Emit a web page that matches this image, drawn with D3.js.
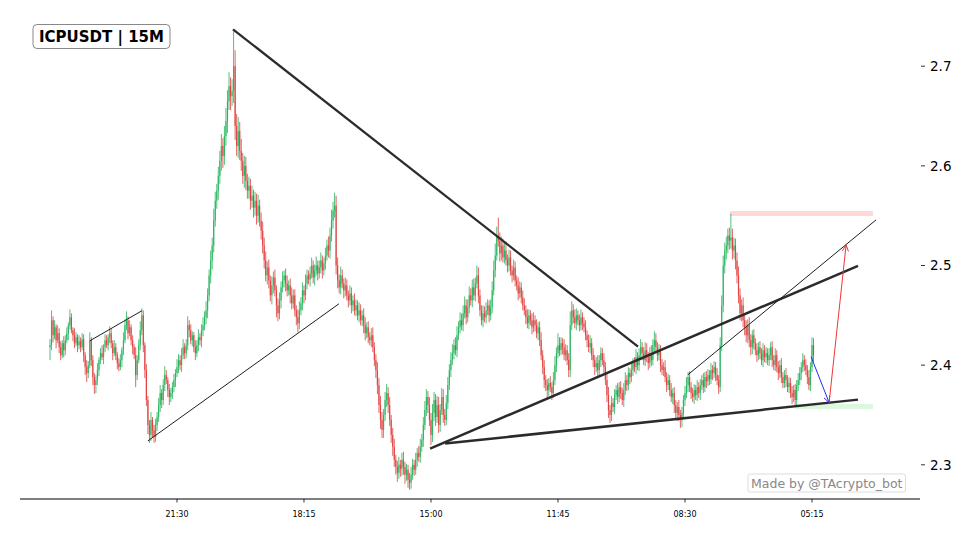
<!DOCTYPE html>
<html>
<head>
<meta charset="utf-8">
<script src="https://cdn.jsdelivr.net/npm/d3@7"></script>
<style>
  body { margin: 0; background: #fff; }
  text { font-family: "DejaVu Sans", sans-serif; }
</style>
</head>
<body>
<div id="chart"></div>
<script>
// ICPUSDT 15m candles (oldest first)
var firstOpen = 2.418
var closes = [
  2.420, 2.445, 2.430, 2.438, 2.425, 2.432, 2.418, 2.410, 2.422, 2.415,
  2.425, 2.432, 2.440, 2.448, 2.435, 2.430, 2.422, 2.428, 2.420, 2.424,
  2.418, 2.426, 2.410, 2.398, 2.392, 2.400, 2.425, 2.405, 2.388, 2.380,
  2.385, 2.395, 2.405, 2.412, 2.408, 2.418, 2.425, 2.420, 2.428, 2.432,
  2.422, 2.412, 2.418, 2.410, 2.402, 2.398, 2.405, 2.415, 2.425, 2.440,
  2.445, 2.432, 2.438, 2.425, 2.418, 2.410, 2.390, 2.405, 2.420, 2.435,
  2.450, 2.420, 2.395, 2.365, 2.340, 2.330, 2.345, 2.335, 2.328, 2.340,
  2.348, 2.360, 2.372, 2.365, 2.380, 2.390, 2.385, 2.375, 2.368, 2.372,
  2.378, 2.385, 2.392, 2.398, 2.405, 2.400, 2.410, 2.418, 2.412, 2.420,
  2.440, 2.435, 2.425, 2.430, 2.418, 2.412, 2.420, 2.428, 2.425, 2.435,
  2.440, 2.448, 2.455, 2.470, 2.490, 2.505, 2.520, 2.545, 2.565, 2.575,
  2.590, 2.605, 2.620, 2.610, 2.630, 2.645, 2.665, 2.680, 2.670, 2.675,
  2.700, 2.640, 2.620, 2.635, 2.615, 2.605, 2.590, 2.600, 2.585, 2.575,
  2.580, 2.565, 2.570, 2.558, 2.565, 2.550, 2.560, 2.545, 2.535, 2.520,
  2.505, 2.490, 2.498, 2.485, 2.470, 2.480, 2.488, 2.475, 2.460, 2.452,
  2.465, 2.478, 2.485, 2.490, 2.482, 2.475, 2.480, 2.470, 2.462, 2.470,
  2.455, 2.448, 2.442, 2.455, 2.462, 2.475, 2.470, 2.482, 2.490, 2.486,
  2.492, 2.500, 2.488, 2.495, 2.500, 2.492, 2.498, 2.505, 2.495, 2.502,
  2.510, 2.520, 2.515, 2.530, 2.545, 2.555, 2.560, 2.500, 2.485, 2.478,
  2.490, 2.482, 2.475, 2.480, 2.470, 2.465, 2.472, 2.460, 2.465, 2.455,
  2.460, 2.450, 2.455, 2.445, 2.450, 2.440, 2.432, 2.438, 2.428, 2.425,
  2.430, 2.418, 2.405, 2.395, 2.380, 2.360, 2.345, 2.335, 2.350, 2.365,
  2.372, 2.360, 2.345, 2.330, 2.318, 2.305, 2.298, 2.292, 2.300, 2.296,
  2.305, 2.298, 2.290, 2.295, 2.285, 2.282, 2.290, 2.300, 2.295, 2.305,
  2.312, 2.308, 2.318, 2.325, 2.340, 2.355, 2.368, 2.360, 2.345, 2.330,
  2.352, 2.365, 2.348, 2.360, 2.340, 2.355, 2.368, 2.350, 2.345, 2.362,
  2.380, 2.395, 2.405, 2.412, 2.420, 2.415, 2.430, 2.438, 2.445, 2.440,
  2.452, 2.460, 2.448, 2.458, 2.470, 2.465, 2.478, 2.470, 2.482, 2.490,
  2.470, 2.455, 2.445, 2.452, 2.448, 2.455, 2.460, 2.450, 2.458, 2.475,
  2.495, 2.510, 2.530, 2.525, 2.512, 2.520, 2.508, 2.515, 2.505, 2.500,
  2.508, 2.495, 2.490, 2.498, 2.485, 2.480, 2.472, 2.478, 2.468, 2.460,
  2.455, 2.448, 2.442, 2.450, 2.445, 2.438, 2.445, 2.440, 2.432, 2.438,
  2.425, 2.410, 2.398, 2.385, 2.380, 2.375, 2.382, 2.378, 2.372, 2.385,
  2.400, 2.412, 2.420, 2.415, 2.422, 2.418, 2.410, 2.415, 2.405, 2.395,
  2.440, 2.455, 2.448, 2.442, 2.450, 2.445, 2.440, 2.448, 2.442, 2.438,
  2.430, 2.425, 2.418, 2.422, 2.410, 2.405, 2.398, 2.402, 2.395, 2.405,
  2.412, 2.405, 2.398, 2.385, 2.370, 2.355, 2.350, 2.362, 2.358, 2.370,
  2.375, 2.368, 2.378, 2.372, 2.365, 2.375, 2.385, 2.380, 2.392, 2.388,
  2.395, 2.402, 2.398, 2.408, 2.400, 2.410, 2.418, 2.412, 2.405, 2.415,
  2.408, 2.402, 2.412, 2.405, 2.420, 2.425, 2.418, 2.410, 2.415, 2.400,
  2.395, 2.398, 2.388, 2.380, 2.385, 2.375, 2.368, 2.372, 2.360, 2.352,
  2.358, 2.350, 2.345, 2.352, 2.365, 2.372, 2.380, 2.388, 2.378, 2.372,
  2.368, 2.375, 2.370, 2.378, 2.372, 2.380, 2.385, 2.378, 2.388, 2.384,
  2.390, 2.386, 2.395, 2.392, 2.398, 2.390, 2.385, 2.378, 2.420, 2.460,
  2.500, 2.515, 2.520, 2.530, 2.525, 2.528, 2.515, 2.520, 2.505, 2.490,
  2.470, 2.452, 2.460, 2.445, 2.438, 2.430, 2.440, 2.425, 2.418, 2.430,
  2.422, 2.415, 2.410, 2.418, 2.412, 2.405, 2.415, 2.408, 2.412, 2.405,
  2.410, 2.418, 2.405, 2.400, 2.410, 2.398, 2.392, 2.400, 2.388, 2.382,
  2.390, 2.385, 2.378, 2.382, 2.372, 2.368, 2.375, 2.365, 2.380, 2.385,
  2.392, 2.398, 2.405, 2.400, 2.395, 2.388, 2.380, 2.398, 2.420, 2.410
]
// wick lengths above / below the body, in thousandths
var upperWick = [
  6,10,4,7,3,8,5,6,3,7, 5,6,3,8,4,3,7,5,3,6, 4,6,5,3,7,4,8,3,5,4, 5,7,3,5,8,3,6,5,3,7,
  5,3,7,4,3,5,6,3,8,6, 9,4,7,3,5,3,8,5,6,9, 7,5,3,6,4,5,8,3,5,6, 5,7,8,4,6,9,5,3,6,5,
  5,6,4,8,6,5,7,8,4,6, 9,5,6,4,3,7,5,8,4,6, 8,6,9,7,6,10,8,12,9,7, 9,10,12,8,10,13,11,14,9,12,
  35,16,12,14,9,12,8,10,9,7, 9,7,10,6,9,7,11,6,8,9, 8,9,6,8,5,9,6,8,5,7, 8,6,9,5,7,8,5,7,8,6,
  6,5,8,9,6,8,5,9,6,5, 7,8,5,6,9,5,7,8,5,6, 8,6,9,8,11,9,13,10,8,6, 9,6,5,8,6,5,8,6,5,7,
  6,5,8,6,5,7,8,5,6,5, 7,8,5,6,8,7,9,8,6,8, 9,6,8,5,7,8,5,6,8,5, 7,8,5,6,5,7,8,6,5,7,
  5,7,8,6,8,9,8,6,8,7, 9,8,6,9,8,6,9,8,6,8, 8,6,8,9,6,8,9,6,8,7, 8,9,6,8,9,7,8,9,6,10,
  8,6,5,8,7,8,6,5,8,9, 10,12,9,18,8,9,7,8,9,6, 8,7,5,8,6,5,8,6,5,7, 7,5,8,6,5,7,8,5,6,5,
  6,8,5,7,5,6,5,7,5,8, 9,6,12,8,6,5,8,6,5,7, 14,9,6,8,7,5,6,8,5,6, 7,5,6,8,5,7,5,6,8,5,
  6,5,7,5,6,8,5,7,5,6, 5,7,5,6,5,7,8,5,6,5, 7,5,6,8,5,7,8,5,6,8, 7,5,6,8,6,9,7,5,6,5,
  6,5,7,5,6,5,7,5,6,5, 5,7,5,6,5,7,8,5,6,5, 5,6,5,7,5,6,5,7,5,6, 6,5,7,5,6,5,7,5,8,10,
  10,8,9,7,8,24,9,8,7,8, 9,7,6,8,6,7,6,8,6,5, 6,5,7,5,6,5,7,5,6,5, 7,5,6,5,7,5,6,5,7,5,
  5,7,5,6,5,7,5,6,5,7, 6,5,7,5,6,5,7,5,8,7
]
var lowerWick = [
  13,5,7,4,8,3,6,5,3,7, 5,3,7,4,3,6,5,3,7,4, 5,3,7,8,9,5,3,6,8,9, 8,5,6,4,3,7,5,3,5,6,
  5,7,3,5,6,4,3,7,5,3, 5,6,3,5,7,4,12,5,3,5, 5,7,8,6,9,8,6,8,6,5, 6,5,7,8,5,6,4,7,8,5,
  6,5,7,4,6,5,7,4,6,5, 5,7,4,6,5,7,4,6,5,7, 6,5,7,8,6,8,9,7,6,8, 9,8,10,12,9,10,12,9,14,10,
  12,14,10,12,9,10,8,12,9,8, 8,9,7,10,8,9,7,6,9,8, 8,6,9,8,6,9,8,6,12,8, 6,8,5,7,8,6,5,8,6,5,
  6,8,9,6,5,7,8,5,6,5, 7,5,6,8,5,7,5,6,8,5, 6,5,7,8,6,8,7,9,8,6, 7,5,8,6,5,7,5,8,6,5,
  6,5,7,5,6,8,7,5,6,5, 7,5,6,8,9,8,9,8,8,6, 7,8,6,8,9,7,8,9,6,8, 7,8,9,6,8,7,6,5,6,5,
  7,5,6,5,7,5,6,8,6,10, 7,8,9,6,8,7,5,8,6,5, 6,5,7,5,6,5,7,5,6,5, 6,5,7,5,6,5,7,5,6,5,
  8,6,5,7,5,6,5,7,5,6, 5,7,5,6,8,7,5,6,5,7, 6,5,7,5,6,5,7,5,6,5, 5,7,5,6,5,7,5,6,5,7,
  6,5,7,8,6,8,6,5,7,5, 5,7,5,6,5,7,5,6,5,7, 7,5,6,5,7,5,6,5,7,5, 5,7,5,6,5,7,8,5,6,5,
  7,5,6,5,7,8,8,6,5,7, 5,7,5,6,5,7,5,6,5,7, 5,6,5,7,5,6,5,7,5,6, 5,7,5,6,5,7,5,6,5,7,
  5,6,5,7,5,6,5,7,8,6, 8,6,8,7,5,6,5,7,5,6, 5,7,5,6,5,7,5,6,5,7, 5,6,5,7,5,6,5,7,5,6,
  7,8,9,8,9,8,9,8,9,8, 8,7,8,7,8,7,8,7,8,7, 6,5,7,5,6,5,7,5,6,5, 6,5,7,5,6,5,7,5,6,5,
  5,7,5,6,5,7,5,7,5,6, 5,7,5,6,5,7,5,6,5,7
]

var xTickIdx = [83, 166, 249, 332, 415, 498]
var xTickLabels = ["21:30", "18:15", "15:00", "11:45", "08:30", "05:15"]
var yTicks = [2.3, 2.4, 2.5, 2.6, 2.7]

// trend lines: [startIndex, startPrice, endIndex, endPrice, width]
var trendLines = [
  [119.6, 2.737, 384.3, 2.4185, 2.3],
  [26.1, 2.4245, 60.1, 2.4546, 1],
  [64.0, 2.3240, 188.9, 2.4616, 1],
  [248.4, 2.3163, 528.1, 2.4997, 2.5],
  [258.2, 2.3213, 528.1, 2.3654, 2.5],
  [417.0, 2.3905, 539.9, 2.5458, 1]
]
// zones: [startIndex, endIndex, price, colour]
var zones = [
  [444.4, 537.9, 2.5523, "#fdd9d9"],
  [487.0, 537.9, 2.3584, "#dcf7dc"]
]
// projection arrows: [fromIndex, fromPrice, toIndex, toPrice, colour]
var arrows = [
  [497.4, 2.4085, 509.2, 2.3624, "#2b2bf0"],
  [509.2, 2.3624, 520.3, 2.5207, "#f03535"]
]

var candles = closes.map(function (c, i) {
  var o = i === 0 ? firstOpen : closes[i - 1]
  return {
    i: i, open: o, close: c,
    high: Math.max(o, c) + upperWick[i] / 1000,
    low: Math.min(o, c) - lowerWick[i] / 1000
  }
})

var width = 971, height = 539
var svg = d3.select("#chart").append("svg")
  .attr("width", width).attr("height", height)

var x = d3.scaleLinear().domain([-19.6, 568.6]).range([20, 920])
var y = d3.scaleLinear().domain([2.3, 2.7]).range([464.8, 66.2])
var axisY = 499

var green = "#22b35a", red = "#e03b3b"

// zones
svg.append("g").selectAll("line").data(zones).enter().append("line")
  .attr("x1", function (d) { return x(d[0]) })
  .attr("x2", function (d) { return x(d[1]) })
  .attr("y1", function (d) { return y(d[2]) })
  .attr("y2", function (d) { return y(d[2]) })
  .style("stroke", function (d) { return d[3] })
  .style("stroke-width", 5)

// candles
var cg = svg.append("g")
cg.selectAll("line").data(candles).enter().append("line")
  .attr("x1", function (d) { return x(d.i) })
  .attr("x2", function (d) { return x(d.i) })
  .attr("y1", function (d) { return y(d.high) })
  .attr("y2", function (d) { return y(d.low) })
  .style("stroke", function (d) { return d.close >= d.open ? green : red })
  .style("stroke-width", 0.8)
cg.selectAll("rect").data(candles).enter().append("rect")
  .attr("x", function (d) { return x(d.i) - 0.6 })
  .attr("width", 1.2)
  .attr("y", function (d) { return y(Math.max(d.open, d.close)) })
  .attr("height", function (d) { return Math.max(0.6, Math.abs(y(d.open) - y(d.close))) })
  .style("fill", function (d) { return d.close >= d.open ? green : red })
  .style("opacity", 0.85)

// trend lines
svg.append("g").selectAll("line").data(trendLines).enter().append("line")
  .attr("x1", function (d) { return x(d[0]) })
  .attr("y1", function (d) { return y(d[1]) })
  .attr("x2", function (d) { return x(d[2]) })
  .attr("y2", function (d) { return y(d[3]) })
  .style("stroke", function (d) { return d[4] > 1.5 ? "#2b2b2b" : "#1e1e1e" })
  .style("stroke-width", function (d) { return d[4] })

// arrows with open heads
var ag = svg.append("g")
arrows.forEach(function (a) {
  var x1 = x(a[0]), y1 = y(a[1]), x2 = x(a[2]), y2 = y(a[3])
  var ang = Math.atan2(y2 - y1, x2 - x1)
  var hl = 7, hw = 0.45
  ag.append("line").attr("x1", x1).attr("y1", y1).attr("x2", x2).attr("y2", y2)
    .style("stroke", a[4]).style("stroke-width", 1)
  ag.append("path")
    .attr("d", "M" + (x2 - hl * Math.cos(ang - hw)) + "," + (y2 - hl * Math.sin(ang - hw)) +
      "L" + x2 + "," + y2 +
      "L" + (x2 - hl * Math.cos(ang + hw)) + "," + (y2 - hl * Math.sin(ang + hw)))
    .style("fill", "none").style("stroke", a[4]).style("stroke-width", 1)
})

// x axis (bottom spine only)
svg.append("line").attr("x1", 20).attr("x2", 920).attr("y1", axisY).attr("y2", axisY)
  .style("stroke", "#000").style("stroke-width", 1)
var xt = svg.append("g").selectAll("g").data(xTickIdx).enter().append("g")
  .attr("transform", function (d) { return "translate(" + x(d) + "," + axisY + ")" })
xt.append("line").attr("y2", 3.5).style("stroke", "#000").style("stroke-width", 0.8)
xt.append("text").attr("y", 18).attr("text-anchor", "middle")
  .style("font-size", "8px").style("fill", "#000")
  .text(function (d, i) { return xTickLabels[i] })

// y axis on the right, no spine
var yt = svg.append("g").selectAll("g").data(yTicks).enter().append("g")
  .attr("transform", function (d) { return "translate(921," + y(d) + ")" })
yt.append("line").attr("x2", 4).style("stroke", "#000").style("stroke-width", 0.8)
yt.append("text").attr("x", 9).attr("dy", "0.35em")
  .style("font-size", "13.5px").style("fill", "#000")
  .text(function (d) { return d.toFixed(1) })

// title box
var tg = svg.append("g")
var tt = tg.append("text").attr("x", 39).attr("y", 42)
  .style("font-size", "15px").style("font-weight", "bold").style("fill", "#000")
  .text("ICPUSDT | 15M")
var tw = tt.node().getComputedTextLength()
tg.insert("rect", "text").attr("x", 33).attr("y", 24.5).attr("width", tw + 12).attr("height", 24)
  .attr("rx", 4).style("fill", "#fff").style("stroke", "#888").style("stroke-width", 1)

// watermark
var wg = svg.append("g")
var wt = wg.append("text").attr("x", 751).attr("y", 487.5)
  .style("font-size", "12.5px").style("fill", "#888")
  .text("Made by @TAcrypto_bot")
var ww = wt.node().getComputedTextLength()
wg.insert("rect", "text").attr("x", 748).attr("y", 474).attr("width", ww + 6).attr("height", 18)
  .attr("rx", 2).style("fill", "#fff").style("fill-opacity", 0.8)
  .style("stroke", "#ddd").style("stroke-width", 1)
</script>
</body>
</html>
